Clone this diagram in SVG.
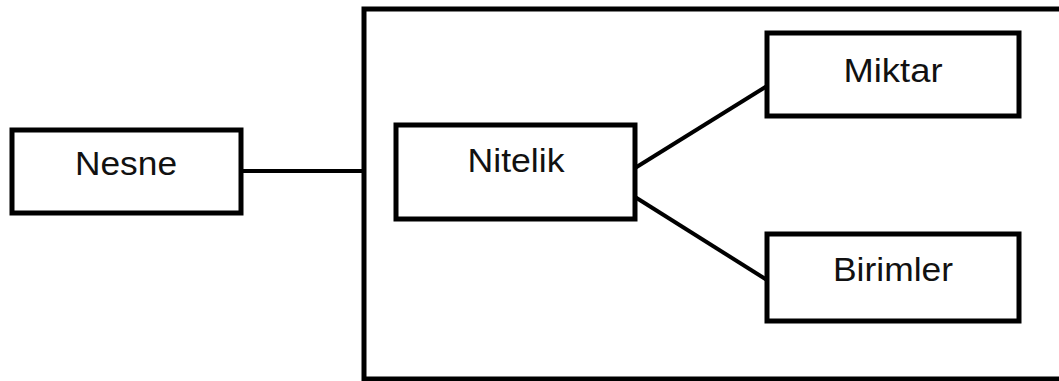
<svg xmlns="http://www.w3.org/2000/svg" width="1059" height="381" viewBox="0 0 1059 381">
<style>
.box{fill:#fff;stroke:#000;stroke-width:5}
.lbl{font-family:"Liberation Sans",Arial,sans-serif;font-size:34px;fill:#111;text-anchor:middle}
.con{stroke:#000;stroke-width:4;fill:none}
</style>
<rect width="1059" height="381" fill="#fff"/>
<g id="container">
<path d="M1065 9 H364 V379 H1065" fill="none" stroke="#000" stroke-width="5"/>
</g>
<g id="connectors">
<line class="con" x1="241" y1="171" x2="364" y2="171"/>
<line class="con" x1="635" y1="168" x2="767" y2="86"/>
<line class="con" x1="635" y1="197" x2="767" y2="280"/>
</g>
<g id="nesne">
<rect class="box" x="12" y="130" width="229" height="83"/>
<text class="lbl" x="126" y="175" textLength="102" lengthAdjust="spacingAndGlyphs">Nesne</text>
</g>
<g id="nitelik">
<rect class="box" x="396" y="125" width="239" height="94"/>
<text class="lbl" x="516" y="172" textLength="97" lengthAdjust="spacingAndGlyphs">Nitelik</text>
</g>
<g id="miktar">
<rect class="box" x="767" y="33" width="252" height="83"/>
<text class="lbl" x="893" y="82" textLength="99" lengthAdjust="spacingAndGlyphs">Miktar</text>
</g>
<g id="birimler">
<rect class="box" x="767" y="234" width="252" height="87"/>
<text class="lbl" x="893" y="281" textLength="120" lengthAdjust="spacingAndGlyphs">Birimler</text>
</g>
</svg>
